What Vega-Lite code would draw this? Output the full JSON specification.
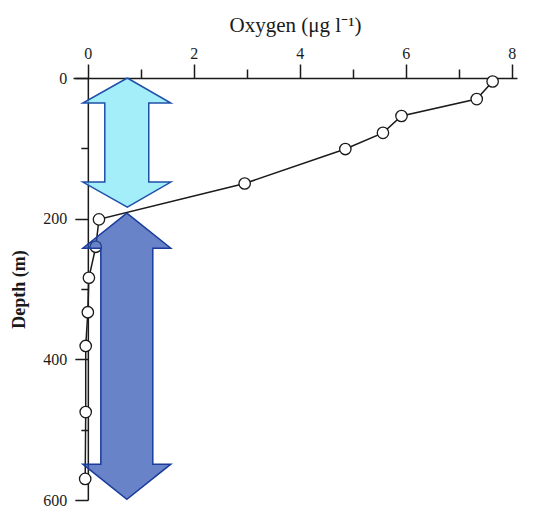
{
  "$schema": "https://vega.github.io/schema/vega-lite/v6.json",
  "width": 444,
  "height": 422,
  "autosize": {"type": "none"},
  "padding": {"left": 73, "top": 78, "right": 16, "bottom": 11},
  "background": "white",
  "config": {
    "view": {"stroke": null},
    "axis": {
      "labelFont": "Liberation Serif",
      "titleFont": "Liberation Serif",
      "domainColor": "#1a1a1a",
      "tickColor": "#1a1a1a",
      "labelColor": "#1a1a1a",
      "titleColor": "#1a1a1a",
      "grid": false,
      "domainWidth": 1.5,
      "tickWidth": 1.5
    }
  },
  "datasets": {
    "profile": [
      {"oxygen": 7.64, "depth": 5},
      {"oxygen": 7.34, "depth": 30},
      {"oxygen": 5.92, "depth": 54},
      {"oxygen": 5.57, "depth": 78},
      {"oxygen": 4.86, "depth": 101},
      {"oxygen": 2.96, "depth": 150},
      {"oxygen": 0.21, "depth": 201},
      {"oxygen": 0.15, "depth": 240},
      {"oxygen": 0.02, "depth": 284},
      {"oxygen": 0.0, "depth": 333},
      {"oxygen": -0.04, "depth": 381},
      {"oxygen": -0.04, "depth": 475},
      {"oxygen": -0.05, "depth": 570}
    ],
    "arrows": [
      {"arrow": "light", "o": 1, "x": 0.745, "d": 0},
      {"arrow": "light", "o": 2, "x": 1.566, "d": 35.6},
      {"arrow": "light", "o": 3, "x": 1.15, "d": 35.6},
      {"arrow": "light", "o": 4, "x": 1.15, "d": 148},
      {"arrow": "light", "o": 5, "x": 1.566, "d": 148},
      {"arrow": "light", "o": 6, "x": 0.745, "d": 183.5},
      {"arrow": "light", "o": 7, "x": -0.094, "d": 148},
      {"arrow": "light", "o": 8, "x": 0.32, "d": 148},
      {"arrow": "light", "o": 9, "x": 0.32, "d": 35.6},
      {"arrow": "light", "o": 10, "x": -0.094, "d": 35.6},
      {"arrow": "light", "o": 11, "x": 0.745, "d": 0},
      {"arrow": "dark", "o": 1, "x": 0.736, "d": 192},
      {"arrow": "dark", "o": 2, "x": 1.566, "d": 242},
      {"arrow": "dark", "o": 3, "x": 1.226, "d": 242},
      {"arrow": "dark", "o": 4, "x": 1.226, "d": 549},
      {"arrow": "dark", "o": 5, "x": 1.566, "d": 549},
      {"arrow": "dark", "o": 6, "x": 0.736, "d": 599},
      {"arrow": "dark", "o": 7, "x": -0.094, "d": 549},
      {"arrow": "dark", "o": 8, "x": 0.245, "d": 549},
      {"arrow": "dark", "o": 9, "x": 0.245, "d": 242},
      {"arrow": "dark", "o": 10, "x": -0.094, "d": 242},
      {"arrow": "dark", "o": 11, "x": 0.736, "d": 192}
    ]
  },
  "layer": [
    {
      "data": {"name": "profile"},
      "mark": {"type": "line", "color": "#1a1a1a", "strokeWidth": 1.5},
      "encoding": {
        "x": {
          "field": "oxygen", "type": "quantitative",
          "scale": {"domain": [-0.28, 8.1], "nice": false, "zero": false},
          "axis": {
            "orient": "top", "values": [0, 2, 4, 6, 8], "tickSize": 14,
            "labelFontSize": 16, "labelPadding": 3,
            "title": "Oxygen (μg l⁻¹)", "titleFontSize": 21,
            "titleFontWeight": "normal", "titlePadding": 10
          }
        },
        "y": {
          "field": "depth", "type": "quantitative",
          "scale": {"domain": [0, 600], "nice": false, "zero": false, "reverse": true},
          "axis": {
            "orient": "left", "offset": -14.84, "values": [0, 200, 400, 600],
            "tickSize": 13, "labelFontSize": 16, "labelPadding": 8,
            "title": "Depth (m)", "titleFontSize": 18, "titleFontWeight": "bold",
            "titlePadding": 14
          }
        },
        "order": {"field": "depth", "type": "quantitative"}
      }
    },
    {
      "data": {"name": "profile"},
      "mark": {"type": "point", "shape": "circle", "size": 130, "filled": true, "fill": "white", "stroke": "#1a1a1a", "strokeWidth": 1.3, "opacity": 1},
      "encoding": {
        "x": {
          "field": "oxygen", "type": "quantitative",
          "axis": {"orient": "top", "values": [1, 3, 5, 7], "tickSize": 9, "labels": false, "domain": false, "title": null}
        },
        "y": {
          "field": "depth", "type": "quantitative",
          "axis": {"orient": "left", "offset": -14.84, "values": [100, 300, 500], "tickSize": 7, "labels": false, "domain": false, "title": null}
        }
      }
    },
    {
      "data": {"name": "arrows"},
      "transform": [{"filter": "datum.arrow === 'light'"}],
      "mark": {"type": "line", "fill": "#7ee7f8", "fillOpacity": 0.7, "stroke": "#1f4fa8", "strokeWidth": 1.5},
      "encoding": {
        "x": {"field": "x", "type": "quantitative", "axis": null},
        "y": {"field": "d", "type": "quantitative", "axis": null},
        "order": {"field": "o", "type": "quantitative"}
      }
    },
    {
      "data": {"name": "arrows"},
      "transform": [{"filter": "datum.arrow === 'dark'"}],
      "mark": {"type": "line", "fill": "#2a4fb0", "fillOpacity": 0.7, "stroke": "#1a3c9c", "strokeWidth": 1.5},
      "encoding": {
        "x": {"field": "x", "type": "quantitative", "axis": null},
        "y": {"field": "d", "type": "quantitative", "axis": null},
        "order": {"field": "o", "type": "quantitative"}
      }
    }
  ],
  "resolve": {"axis": {"x": "independent", "y": "independent"}}
}
